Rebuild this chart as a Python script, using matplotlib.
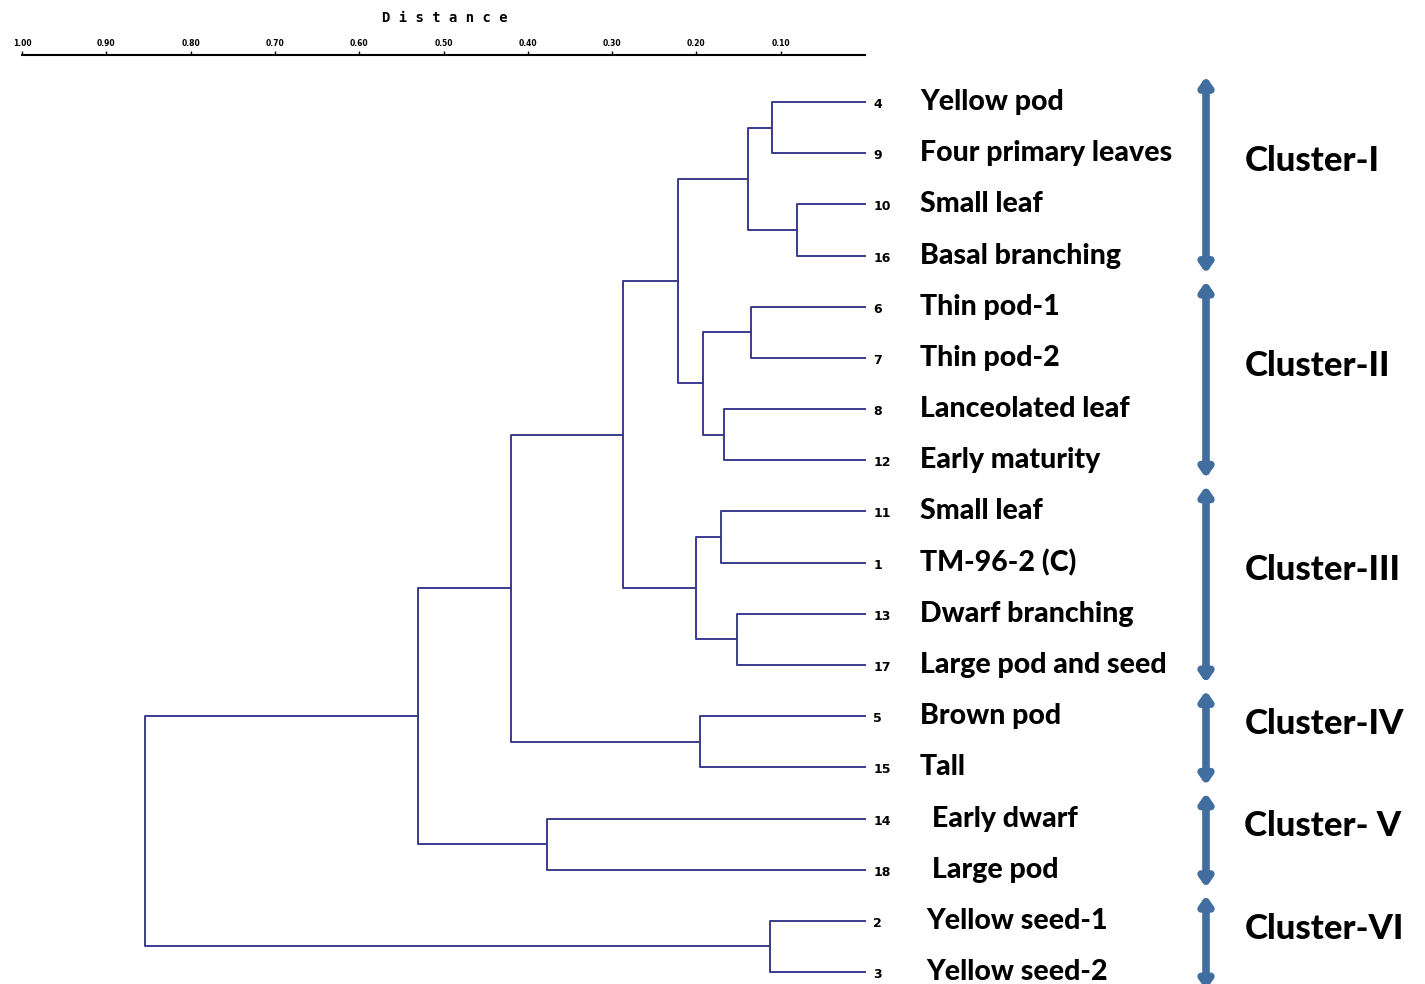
import numpy as np
import matplotlib.pyplot as plt

# leaves, top to bottom
leaf_ids = ["4", "9", "10", "16", "6", "7", "8", "12", "11", "1",
            "13", "17", "5", "15", "14", "18", "2", "3"]
leaf_names = ["Yellow pod", "Four primary leaves", "Small leaf", "Basal branching",
              "Thin pod-1", "Thin pod-2", "Lanceolated leaf", "Early maturity",
              "Small leaf", "TM-96-2 (C)", "Dwarf branching", "Large pod and seed",
              "Brown pod", "Tall", "Early dwarf", "Large pod",
              "Yellow seed-1", "Yellow seed-2"]

# merges: (left node, right node, distance); nodes 0-17 are leaves, 18+ are merges
merges = [(0, 1, 0.110), (2, 3, 0.080), (18, 19, 0.138),
          (4, 5, 0.135), (6, 7, 0.166), (21, 22, 0.191),
          (20, 23, 0.221), (8, 9, 0.170), (10, 11, 0.151),
          (25, 26, 0.200), (24, 27, 0.286), (12, 13, 0.195),
          (28, 29, 0.418), (14, 15, 0.375), (30, 31, 0.528),
          (16, 17, 0.112), (32, 33, 0.850)]

clusters = [("Cluster-I", 0, 3), ("Cluster-II", 4, 7), ("Cluster-III", 8, 11),
            ("Cluster-IV", 12, 13), ("Cluster- V", 14, 15), ("Cluster-VI", 16, 17)]

tick_vals = [1.0, 0.9, 0.8, 0.7, 0.6, 0.5, 0.4, 0.3, 0.2, 0.1]

line_col = "#3b3b8e"
arrow_col = "#416e9f"

fig = plt.figure(figsize=(14.25, 9.84), dpi=100)
ax = fig.add_axes([0, 0, 1, 1])
ax.set_xlim(865 / 847, (865 - 1425) / 847)
ax.set_ylim((984 - 102) / 51.18, -102 / 51.18)
ax.axis("off")

# node positions
n = len(leaf_ids)
ys = list(np.arange(n, dtype=float))
hs = [0.0] * n
for a, b, d in merges:
    ax.plot([hs[a], d, d, hs[b]], [ys[a], ys[a], ys[b], ys[b]], color=line_col, lw=1.4)
    ys.append((ys[a] + ys[b]) / 2)
    hs.append(d)

for i in range(n):
    ax.text(-0.010, i + 0.05, leaf_ids[i], fontsize=9, fontweight="bold",
            ha="left", va="center", family="DejaVu Sans")
    dx = -0.065
    if leaf_names[i] in ("Early dwarf", "Large pod"):
        dx = -0.079
    if leaf_names[i].startswith("Yellow seed"):
        dx = -0.072
    ax.text(dx, i, leaf_names[i], fontsize=20.5, fontweight="black",
            ha="left", va="center", family="Lato")

for name, first, last in clusters:
    ax.annotate("", xy=(-0.4026, first - 0.5), xytext=(-0.4026, last + 0.35),
                arrowprops=dict(arrowstyle="<|-|>,head_length=0.5,head_width=0.35",
                                color=arrow_col, lw=5.5, shrinkA=0, shrinkB=0))
    ax.text(-0.448, (first + last) / 2 - 0.35, name, fontsize=25, fontweight="black",
            ha="left", va="center", family="Lato")

# distance scale at top
sc = fig.add_axes([22 / 1425, 1 - 56 / 984, 843 / 1425, 0.001])
sc.set_xlim(1.0, 0.0)
sc.set_yticks([])
for s in ["left", "right", "bottom"]:
    sc.spines[s].set_visible(False)
sc.spines["top"].set_linewidth(1.5)
sc.xaxis.tick_top()
sc.set_xticks(tick_vals)
sc.set_xticklabels(["%.2f" % v for v in tick_vals], fontsize=5.5, fontweight="bold")
sc.tick_params(axis="x", length=3, width=1, pad=2)
fig.text(445 / 1425, 1 - 18 / 984, "D i s t a n c e", fontsize=10, fontweight="bold",
         ha="center", va="center", family="DejaVu Sans Mono")

fig.savefig("out.png", dpi=100)
